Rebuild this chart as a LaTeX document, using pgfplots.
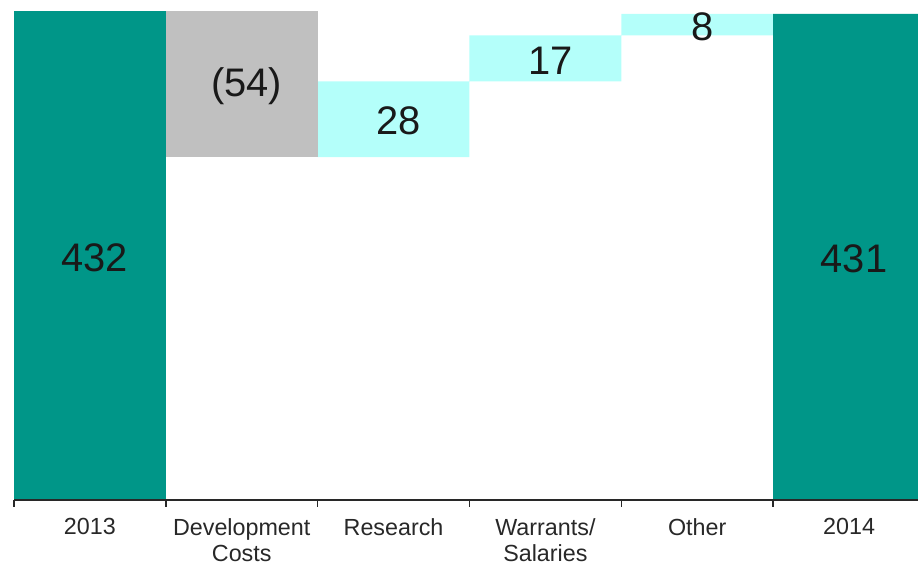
\documentclass[border=0pt]{standalone}
\usepackage{fontspec}
\setmainfont{Liberation Sans}
\usepackage{pgfplots}
\usepackage{pgfplotstable}
\pgfplotsset{compat=1.18}

\definecolor{barteal}{RGB}{0,150,136}
\definecolor{bargray}{RGB}{192,192,192}
\definecolor{barcyan}{RGB}{180,255,250}
\definecolor{inkgray}{RGB}{40,40,40}

% waterfall segments: invisible base, totals, decrease, increases
\pgfplotstableread{
x base total drop rise
0 0   432 0  0
1 378 0   54 0
2 378 0   0  28
3 406 0   0  17
4 423 0   0  8
5 0   431 0  0
}\bridge

% value labels, centred in each visible segment
\pgfplotstableread{
x y     label
0 341.6 432
1 405   (54)
2 392   28
3 414.5 17
4 427   8
5 341.2 431
}\bridgelabels

\pgfplotsset{
  bridge axis/.style={
    scale only axis, width=904bp, height=500bp,
    xmin=-0.5, xmax=5.454, ymin=251.2, ymax=436.1,
    at={(0,0)}, anchor=south west,
  },
}

\begin{document}
\begin{tikzpicture}
\useasboundingbox (-14bp,-69bp) rectangle (904bp,500bp);
\begin{axis}[
  bridge axis,
  ybar stacked, bar width=1,
  axis on top,
  axis x line=bottom, axis y line=none,
  axis line style={-, line width=1.5bp, color=inkgray},
  xtick={0,...,5},
  xticklabels={2013,{Development\\Costs},Research,{Warrants/\\Salaries},Other,2014},
  major tick length=0pt,
  minor xtick={-0.5,0.5,...,4.5},
  minor tick length=7bp,
  tick align=outside,
  minor tick style={line width=1.5bp, color=inkgray},
  xticklabel style={align=center, font=\fontsize{23.4}{26}\selectfont, text=inkgray, yshift=-15bp},
]
\addplot[draw=none, fill=none] table[x=x, y=base] {\bridge};
\addplot[draw=none, fill=barteal] table[x=x, y=total] {\bridge};
\addplot[draw=none, fill=bargray] table[x=x, y=drop] {\bridge};
\addplot[draw=none, fill=barcyan] table[x=x, y=rise] {\bridge};
\end{axis}
\begin{axis}[bridge axis, hide axis, clip=false]
\addplot[draw=none, mark=none,
  nodes near coords, point meta=explicit symbolic,
  every node near coord/.append style={anchor=center, xshift=5bp, yshift=-2bp,
    font=\fontsize{40}{42}\selectfont, text=black!90}]
  table[x=x, y=y, meta=label] {\bridgelabels};
\end{axis}
\end{tikzpicture}
\end{document}
